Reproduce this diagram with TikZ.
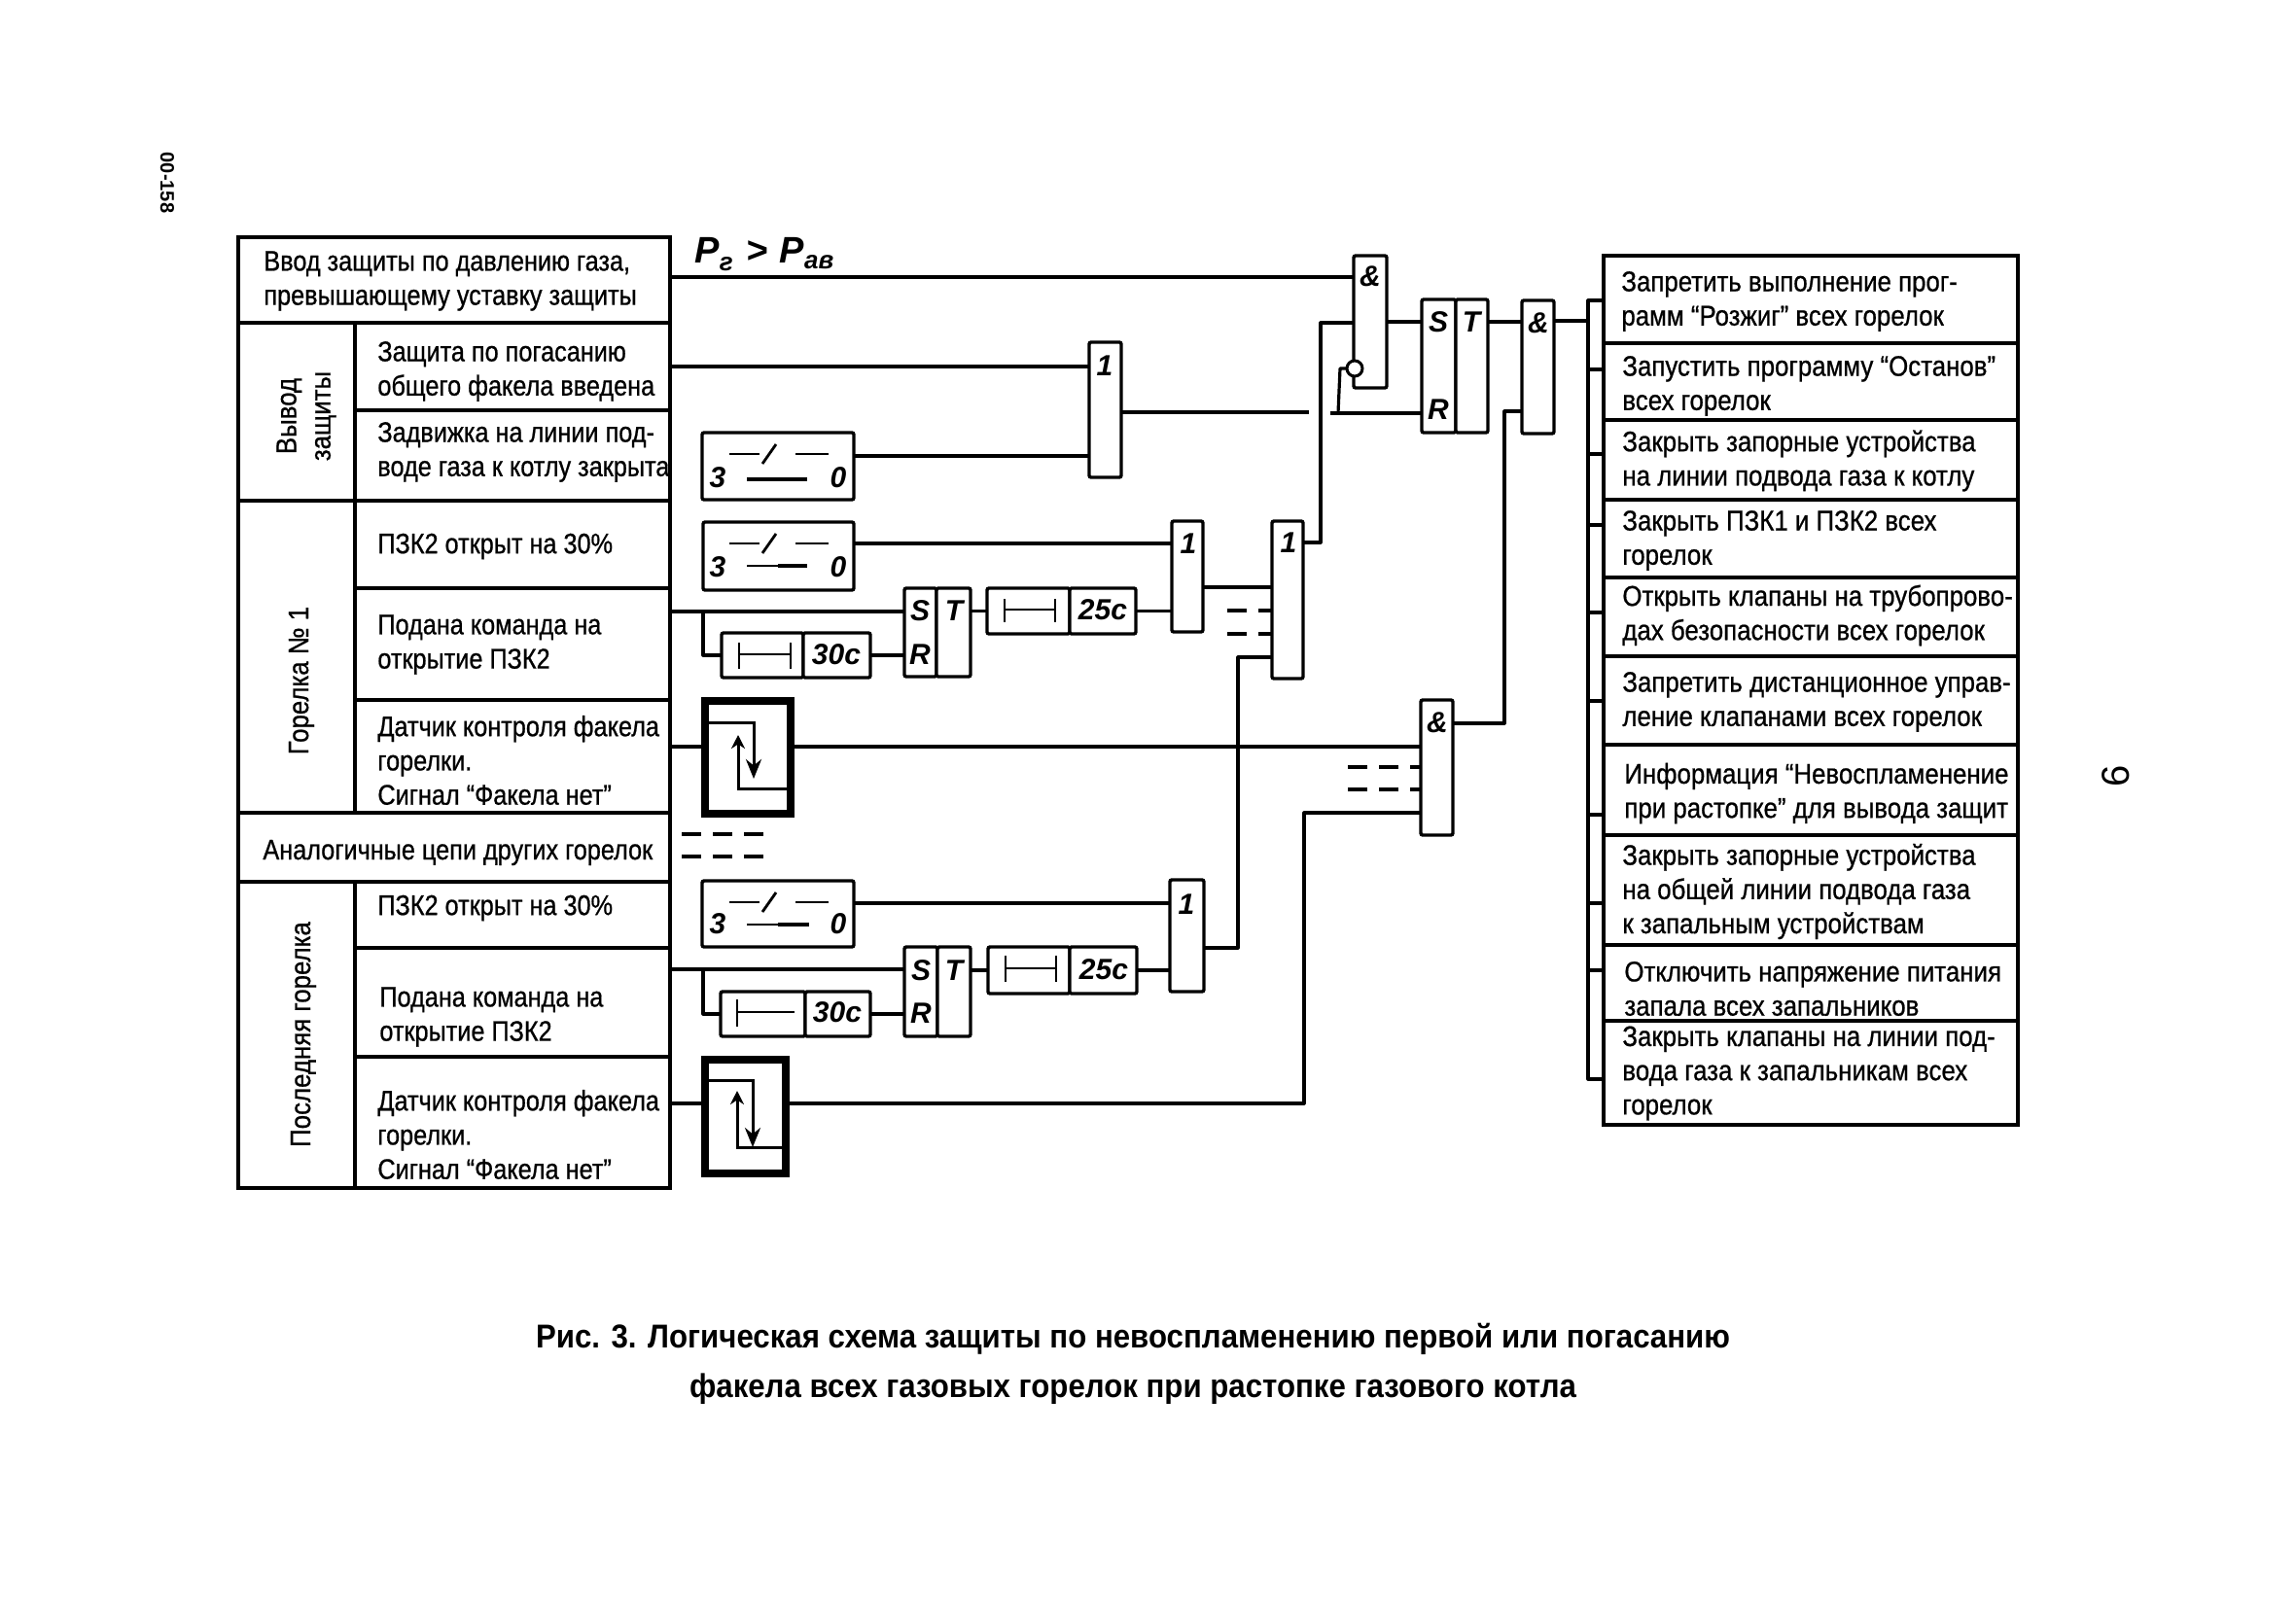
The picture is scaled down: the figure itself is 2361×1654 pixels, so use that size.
\documentclass[tikz,border=0pt]{standalone}
\usepackage{fontspec}
\usetikzlibrary{arrows.meta}
\setmainfont[FakeStretch=0.885,FakeBold=0.7]{Liberation Sans}
\newfontfamily\leftfont[FakeStretch=0.865,FakeBold=0.7]{Liberation Sans}
\newfontfamily\titlefont[FakeStretch=0.918]{Liberation Sans}
\newfontfamily\plainfont{Liberation Sans}
\begin{document}
\begin{tikzpicture}[x=0.5pt,y=-0.5pt,
  tbl/.style={draw=black,line width=1.9pt,fill=white,inner sep=0pt,outer sep=0pt},
  blk/.style={draw=black,line width=1.7pt,fill=white,inner sep=0pt,outer sep=0pt,rounded corners=1pt},
  thick box/.style={draw=black,line width=4pt,fill=white,inner sep=0pt,outer sep=0pt},
  wire/.style={draw=black,line width=1.6pt,line join=round},
  dashw/.style={draw=black,line width=1.7pt,dash pattern=on 10pt off 6pt},
  sym/.style={draw=black,line width=1.4pt},
  lbl/.style={anchor=west,align=left,inner sep=0pt,font=\fontsize{14.6}{17.6}\selectfont},
  llbl/.style={anchor=west,align=left,inner sep=0pt,font=\fontsize{14.6}{17.6}\selectfont\leftfont},
  vlbl/.style={rotate=90,align=center,inner sep=0pt,font=\fontsize{14.6}{17.6}\selectfont},
  glbl/.style={inner sep=0pt,font=\fontsize{15}{18}\selectfont\plainfont\bfseries\itshape},
  ]
\useasboundingbox (0,0) rectangle (2361,1654);
\newcommand{\bx}[6][blk]{%
  \pgfmathsetmacro\bw{(#5-#3)*0.5}\pgfmathsetmacro\bh{(#6-#4)*0.5}%
  \node[#1,minimum width=\bw pt,minimum height=\bh pt] (#2) at ({(#3+#5)/2},{(#4+#6)/2}) {};}
% left table
\bx[tbl]{tA}{245}{244}{689}{332}
\bx[tbl]{sV}{245}{332}{365}{515}
\bx[tbl]{r1}{365}{332}{689}{422}
\bx[tbl]{r2}{365}{422}{689}{515}
\bx[tbl]{sG}{245}{515}{365}{836}
\bx[tbl]{r3}{365}{515}{689}{605}
\bx[tbl]{r4}{365}{605}{689}{720}
\bx[tbl]{r5}{365}{720}{689}{836}
\bx[tbl]{tB}{245}{836}{689}{907}
\bx[tbl]{sL}{245}{907}{365}{1222}
\bx[tbl]{r6}{365}{907}{689}{975}
\bx[tbl]{r7}{365}{975}{689}{1087}
\bx[tbl]{r8}{365}{1087}{689}{1222}
\node[llbl] (xA) at (271,289) {Ввод защиты по давлению газа,\\превышающему уставку защиты};
\node[llbl] (x1) at (388,382) {Защита по погасанию\\общего факела введена};
\node[llbl] (x2) at (388,465) {Задвижка на линии под-\\воде газа к котлу закрыта};
\node[llbl] (x3) at (388,562) {ПЗК2 открыт на 30\%};
\node[llbl] (x4) at (388,663) {Подана команда на\\открытие ПЗК2};
\node[llbl] (x5) at (388,782) {Датчик контроля факела\\горелки.\\Сигнал “Факела нет”};
\node[llbl] (xB) at (270,877) {Аналогичные цепи других горелок};
\node[llbl] (x6) at (388,934) {ПЗК2 открыт на 30\%};
\node[llbl] (x7) at (390,1046) {Подана команда на\\открытие ПЗК2};
\node[llbl] (x8) at (388,1167) {Датчик контроля факела\\горелки.\\Сигнал “Факела нет”};
\node[vlbl] (vV) at (315,428) {Вывод\\защиты};
\node[vlbl] (vG) at (310,700) {Горелка № 1};
\node[vlbl] (vL) at (312,1064) {Последняя горелка};
% right table
\bx[tbl]{q1}{1649}{263}{2075}{353}
\bx[tbl]{q2}{1649}{353}{2075}{432}
\bx[tbl]{q3}{1649}{432}{2075}{514}
\bx[tbl]{q4}{1649}{514}{2075}{594}
\bx[tbl]{q5}{1649}{594}{2075}{675}
\bx[tbl]{q6}{1649}{675}{2075}{766}
\bx[tbl]{q7}{1649}{766}{2075}{859}
\bx[tbl]{q8}{1649}{859}{2075}{972}
\bx[tbl]{q9}{1649}{972}{2075}{1050}
\bx[tbl]{q10}{1649}{1050}{2075}{1157}
\node[lbl] (y1) at (1667,310) {Запретить выполнение прог-\\рамм “Розжиг” всех горелок};
\node[lbl] (y2) at (1668,397) {Запустить программу “Останов”\\всех горелок};
\node[lbl] (y3) at (1668,474) {Закрыть запорные устройства\\на линии подвода газа к котлу};
\node[lbl] (y4) at (1668,556) {Закрыть ПЗК1 и ПЗК2 всех\\горелок};
\node[lbl] (y5) at (1668,633) {Открыть клапаны на трубопрово-\\дах безопасности всех горелок};
\node[lbl] (y6) at (1668,722) {Запретить дистанционное управ-\\ление клапанами всех горелок};
\node[lbl] (y7) at (1670,816) {Информация “Невоспламенение\\при растопке” для вывода защит};
\node[lbl] (y8) at (1668,917) {Закрыть запорные устройства\\на общей линии подвода газа\\к запальным устройствам};
\node[lbl] (y9) at (1670,1017) {Отключить напряжение питания\\запала всех запальников};
\node[lbl] (y10) at (1668,1104) {Закрыть клапаны на линии под-\\вода газа к запальникам всех\\горелок};
% logic blocks
\bx{gA}{1392}{263}{1426}{399}
\bx{st}{1462}{308}{1497}{445}
\bx{tt}{1497}{308}{1530}{445}
\bx{gB}{1565}{309}{1598}{446}
\bx{gC}{1120}{352}{1153}{491}
\bx{gE}{1308}{536}{1340}{698}
\bx{gD}{1205}{536}{1237}{650}
\bx{s1}{930}{605}{963}{696}
\bx{t1}{963}{605}{998}{696}
\bx{d1}{1015}{605}{1100}{652}
\bx{e1}{1100}{605}{1168}{652}
\bx{gF}{1461}{720}{1494}{859}
\bx{gG}{1203}{905}{1238}{1020}
\bx{s2}{930}{974}{964}{1066}
\bx{t2}{964}{974}{998}{1066}
\bx{d2}{1016}{974}{1100}{1022}
\bx{e2}{1100}{974}{1169}{1022}
\bx{d3}{742}{651}{826}{697}
\bx{e3}{826}{651}{895}{697}
\bx{d4}{741}{1020}{828}{1066}
\bx{e4}{828}{1020}{895}{1066}
\bx{sw1}{722}{445}{878}{514}
\bx{sw2}{723}{537}{878}{607}
\bx{sw3}{722}{906}{878}{974}
\bx[thick box]{fl1}{725}{721}{813}{837}
\bx[thick box]{fl2}{725}{1090}{808}{1207}
% gate labels
\node[glbl] (la) at (1409,284) {\&};
\node[glbl] (lb) at (1582,332) {\&};
\node[glbl] (lc) at (1136,376) {1};
\node[glbl] (ld) at (1222,559) {1};
\node[glbl] (le) at (1325,558) {1};
\node[glbl] (lf) at (1478,743) {\&};
\node[glbl] (lg) at (1220,930) {1};
\node[glbl] (ss) at (1479,331) {S};
\node[glbl] (sr) at (1479,421) {R};
\node[glbl] (st2) at (1513,331) {T};
\node[glbl] (s1s) at (946,628) {S};
\node[glbl] (s1r) at (946,673) {R};
\node[glbl] (s1t) at (981,628) {T};
\node[glbl] (s2s) at (947,998) {S};
\node[glbl] (s2r) at (947,1042) {R};
\node[glbl] (s2t) at (981,998) {T};
\node[glbl] (n1) at (1134,627) {25с};
\node[glbl] (n2) at (1135,997) {25с};
\node[glbl] (n3) at (860,673) {30с};
\node[glbl] (n4) at (861,1041) {30с};
\foreach \sw/\yo/\dy in {sw1/0/0,sw2/92/0,sw3/461/-2}{
  \node[glbl] (\sw t) at (738,491+\yo+\dy) {3};
  \node[glbl] (\sw o) at (862,491+\yo+\dy) {0};
  \draw[sym] (750,467+\yo) -- (781,467+\yo);
  \draw[sym] (784,477+\yo) -- (798,457+\yo);
  \draw[sym] (818,467+\yo) -- (852,467+\yo);
}
\draw[sym,line width=2pt] (768,493) -- (830,493);
\draw[sym] (768,582) -- (800,582); \draw[sym,line width=2.4pt] (800,582) -- (830,582);
\draw[sym] (768,951) -- (800,951); \draw[sym,line width=2.4pt] (800,951) -- (832,951);
% timer symbols
\draw[sym] (760,661) -- (760,688) (760,673) -- (813,673) (813,661) -- (813,688);
\draw[sym] (758,1028) -- (758,1056) (758,1041) -- (817,1041);
\draw[sym] (1033,616) -- (1033,640) (1033,627) -- (1085,627) (1085,616) -- (1085,640);
\draw[sym] (1034,983) -- (1034,1010) (1034,996) -- (1086,996) (1086,983) -- (1086,1010);
% flame symbols
\draw[sym,line width=1.5pt,-{Stealth[length=10pt,width=8pt]}] (729,743) -- (775,743) -- (775,801);
\draw[sym,line width=1.5pt,-{Stealth[length=7pt,width=7pt]}] (811,811) -- (759,811) -- (759,756);
\draw[sym,line width=1.5pt,-{Stealth[length=10pt,width=8pt]}] (729,1111) -- (774,1111) -- (774,1180);
\draw[sym,line width=1.5pt,-{Stealth[length=7pt,width=7pt]}] (804,1180) -- (758,1180) -- (758,1122);
% connectors
\draw[wire] (tA.east |- 0,285) -- (gA.west |- 0,285);
\draw[wire] (r1.east |- 0,377) -- (gC.west |- 0,377);
\draw[wire] (sw1.east |- 0,469) -- (gC.west |- 0,469);
\draw[wire] (gC.east |- 0,424) -- (1346,424);
\draw[wire] (sw2.east |- 0,559) -- (gD.west |- 0,559);
\draw[wire] (r4.east |- 0,629) -- (s1.west |- 0,629);
\draw[wire] (723,629) |- (d3.west);
\draw[wire] (e3.east) -- (s1.west |- e3.east);
\draw[wire] (t1.east |- d1.west) -- (d1.west);
\draw[wire] (e1.east) -- (gD.west |- e1.east);
\draw[wire] (gD.east |- 0,604) -- (gE.west |- 0,604);
\draw[dashw] (1262,628) -- (gE.west |- 0,628);
\draw[dashw] (1262,652) -- (gE.west |- 0,652);
\draw[wire] (gE.west |- 0,676) -- (1273,676) -- (1273,975) -- (gG.east |- 0,975);
\draw[wire] (gE.east |- 0,558) -- (1358,558) -- (1358,332) -- (gA.west |- 0,332);
\draw[wire] (gA.east |- 0,331) -- (st.west |- 0,331);
\draw[wire] (1368,425) -- (st.west |- 0,425);
\coordinate (bub) at (1393,379);
\draw[wire] (1376,425) -- (1378,379) -- (bub);
\node[draw=black,line width=1.5pt,fill=white,circle,minimum size=8pt,inner sep=0pt] (nb) at (bub) {};
\draw[wire] (tt.east |- 0,331) -- (gB.west |- 0,331);
\draw[wire] (gB.east |- 0,330) -- (1633,330);
\draw[wire] (gF.east |- 0,744) -- (1547,744) -- (1547,423) -- (gB.west |- 0,423);
\draw[wire] (fl1.east |- 0,768) -- (gF.west |- 0,768);
\draw[wire] (r5.east |- 0,768) -- (fl1.west |- 0,768);
\draw[dashw] (1386,789) -- (gF.west |- 0,789);
\draw[dashw] (1386,812) -- (gF.west |- 0,812);
\draw[wire] (gF.west |- 0,836) -- (1341,836) -- (1341,1135) -- (fl2.east |- 0,1135);
\draw[wire] (r8.east |- 0,1135) -- (fl2.west |- 0,1135);
\draw[wire] (sw3.east |- 0,929) -- (gG.west |- 0,929);
\draw[wire] (r7.east |- 0,997) -- (s2.west |- 0,997);
\draw[wire] (723,997) |- (d4.west);
\draw[wire] (e4.east) -- (s2.west |- e4.east);
\draw[wire] (t2.east |- d2.west) -- (d2.west);
\draw[wire] (e2.east) -- (gG.west |- e2.east);
\coordinate (dsh) at (701,858);
\coordinate (dsj) at (701,881);
\draw[dashw] (dsh) -- (788,858);
\draw[dashw] (dsj) -- (788,881);
% bus
\draw[wire] (q1.west |- 0,309) -- (1633,309) -- (1633,1110) -- (q10.west |- 0,1110);
\foreach \yy in {380,467,540,630,721,838,929,998}{\draw[wire] (1633,\yy) -- (q1.west |- 0,\yy);}
% signal label
\node[glbl,anchor=west,font=\fontsize{19}{22}\selectfont\plainfont\bfseries\itshape] (pp) at (714,262) {P\raisebox{-4pt}{\fontsize{13}{13}\selectfont г}\hspace{7pt}>\hspace{6pt}P\raisebox{-3pt}{\fontsize{13}{13}\selectfont ав}};
% title
\node[inner sep=0pt,align=center,font=\fontsize{17}{25.5}\selectfont\titlefont\bfseries] (title) at (1165,1403) {Рис. 3. Логическая схема защиты по невоспламенению первой или погасанию\\факела всех газовых горелок при растопке газового котла};
% margin texts
\node[rotate=-90,inner sep=0pt,font=\fontsize{10}{12}\selectfont\plainfont\bfseries] (pg) at (172,188) {00-158};
\node[rotate=90,inner sep=0pt,font=\fontsize{20}{22}\selectfont\plainfont] (six) at (2176,798) {6};
\end{tikzpicture}
\end{document}
